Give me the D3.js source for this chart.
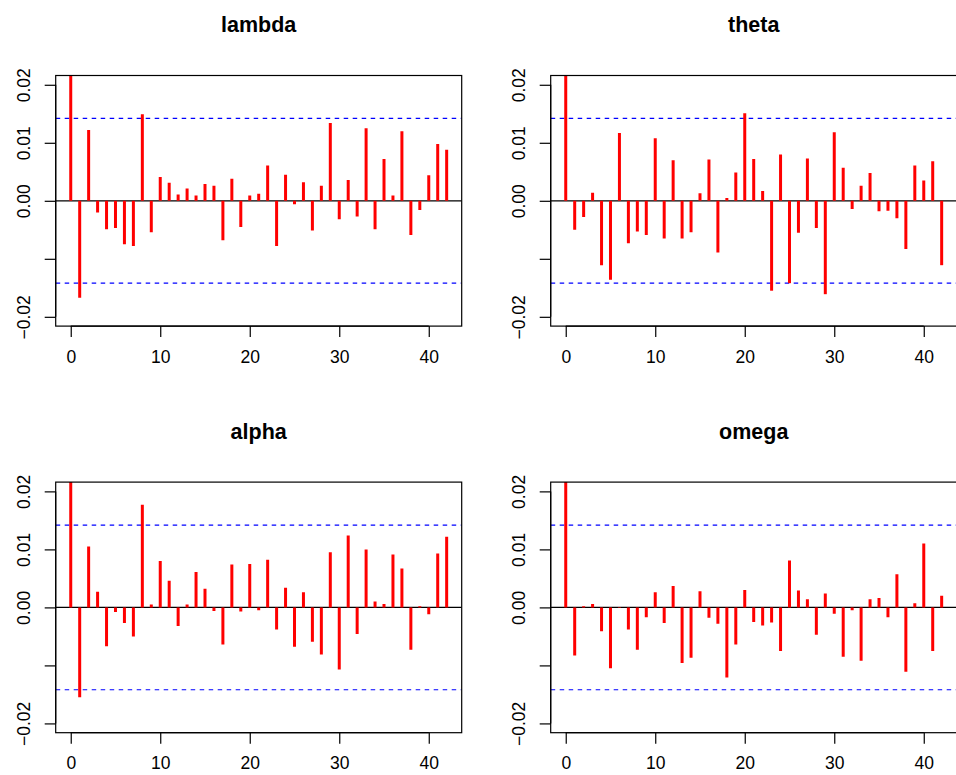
<!DOCTYPE html>
<html>
<head>
<meta charset="utf-8">
<script src="https://cdn.jsdelivr.net/npm/d3@7"></script>
<style>
  html, body { margin: 0; padding: 0; background: #fff; }
  svg { display: block; font-family: "Liberation Sans", Arial, Helvetica, sans-serif; }
</style>
</head>
<body>
<svg id="chart" width="956" height="775"></svg>
<script>
// --------- Data --------- //
// autocorrelations, lag 0..42 (lag 0 is always 1, clipped by the plot)
var lambda = [1, -0.0167, 0.0122, -0.0020, -0.0049, -0.0047, -0.0075, -0.0078, 0.0149, -0.0054,
	0.0041, 0.0031, 0.0011, 0.0021, 0.0009, 0.0029, 0.0026, -0.0068, 0.0038, -0.0045,
	0.0009, 0.0012, 0.0061, -0.0078, 0.0045, -0.0006, 0.0032, -0.0051, 0.0026, 0.0134,
	-0.0032, 0.0036, -0.0027, 0.0125, -0.0049, 0.0072, 0.0009, 0.0120, -0.0059, -0.0016,
	0.0044, 0.0098, 0.0088];

var theta = [1, -0.0050, -0.0028, 0.0014, -0.0111, -0.0136, 0.0117, -0.0073, -0.0053, -0.0059,
	0.0108, -0.0065, 0.0070, -0.0065, -0.0054, 0.0013, 0.0071, -0.0089, 0.0005, 0.0049,
	0.0151, 0.0072, 0.0017, -0.0155, 0.0080, -0.0142, -0.0055, 0.0073, -0.0047, -0.0161,
	0.0118, 0.0057, -0.0014, 0.0026, 0.0048, -0.0018, -0.0017, -0.0030, -0.0083, 0.0061,
	0.0035, 0.0068, -0.0111];

var alpha = [1, -0.0155, 0.0105, 0.0027, -0.0067, -0.0008, -0.0027, -0.0050, 0.0177, 0.0005,
	0.0080, 0.0046, -0.0032, 0.0005, 0.0061, 0.0032, -0.0006, -0.0064, 0.0074, -0.0007,
	0.0075, -0.0005, 0.0082, -0.0038, 0.0034, -0.0068, 0.0026, -0.0059, -0.0081, 0.0095,
	-0.0107, 0.0124, -0.0046, 0.0100, 0.0010, 0.0006, 0.0091, 0.0067, -0.0073, 0.0002,
	-0.0012, 0.0093, 0.0122];

var omega = [1, -0.0083, 0.0002, 0.0006, -0.0041, -0.0105, -0.0001, -0.0038, -0.0073, -0.0017,
	0.0026, -0.0027, 0.0037, -0.0096, -0.0087, 0.0028, -0.0018, -0.0028, -0.0121, -0.0064,
	0.0030, -0.0025, -0.0031, -0.0026, -0.0075, 0.0081, 0.0029, 0.0014, -0.0047, 0.0024,
	-0.0011, -0.0085, -0.0005, -0.0092, 0.0014, 0.0016, -0.0017, 0.0057, -0.0111, 0.0007,
	0.0110, -0.0075, 0.0020];

var panelNames = ["lambda", "theta", "alpha", "omega"];
var panelSeries = [lambda, theta, alpha, omega];

var ciLimit = 0.0142; // blue dashed confidence bounds
var xTicks = [0, 10, 20, 30, 40];
var yTicks = [-0.02, -0.01, 0, 0.01, 0.02];
var yTickLabels = ["\u22120.02", "", "0.00", "0.01", "0.02"]; // -0.01 label dropped (overlap)
// --------- /Data --------- //

var svg = d3.select("#chart");

var box = {w: 406, h: 250.6};
var origins = [
	{x: 55.7, y: 75.5}, {x: 550.7, y: 75.5},
	{x: 55.7, y: 482.1}, {x: 550.7, y: 482.1}
];

panelNames.forEach(function(name, i){
	drawPanel(svg, origins[i], name, panelSeries[i], i);
});

function drawPanel(svg, o, title, values, idx){
	var lags = d3.range(values.length);
	var x = d3.scaleLinear().domain([-1.68, 43.68]).range([0, box.w]);
	var y = d3.scaleLinear().domain([-0.0216, 0.0216]).range([box.h, 0]);

	var g = svg.append("g").attr("transform", "translate(" + o.x + "," + o.y + ")");

	var clipId = "clip" + idx;
	g.append("clipPath").attr("id", clipId)
		.append("rect").attr("width", box.w).attr("height", box.h);

	var plot = g.append("g").attr("clip-path", "url(#" + clipId + ")");

	// zero line
	plot.append("line")
		.attr("x1", 0).attr("x2", box.w)
		.attr("y1", y(0)).attr("y2", y(0))
		.attr("stroke", "#000").attr("stroke-width", 1.2);

	// confidence bounds
	plot.selectAll("line.ci").data([ciLimit, -ciLimit]).enter().append("line")
		.attr("class", "ci")
		.attr("x1", 0).attr("x2", box.w)
		.attr("y1", function(d){ return y(d); })
		.attr("y2", function(d){ return y(d); })
		.attr("stroke", "#0000ff").attr("stroke-width", 1.2)
		.attr("stroke-dasharray", "4.5,4.5");

	// acf spikes
	plot.selectAll("line.spike").data(lags).enter().append("line")
		.attr("class", "spike")
		.attr("x1", function(d){ return x(d); })
		.attr("x2", function(d){ return x(d); })
		.attr("y1", y(0))
		.attr("y2", function(d){ return y(values[d]); })
		.attr("stroke", "#ff0000").attr("stroke-width", 3);

	// box
	g.append("rect")
		.attr("width", box.w).attr("height", box.h)
		.attr("fill", "none").attr("stroke", "#000").attr("stroke-width", 1.2);

	// x axis
	var xAxis = d3.axisBottom(x).tickValues(xTicks).tickSize(11).tickPadding(13).tickSizeOuter(0);
	var xg = g.append("g").attr("transform", "translate(0," + box.h + ")").call(xAxis);
	xg.select(".domain")
		.attr("d", "M" + x(xTicks[0]) + ",0H" + x(xTicks[xTicks.length - 1]));
	styleAxis(xg);
	xg.selectAll("text").attr("dy", "0.72em");

	// y axis (labels rotated, as in base R)
	var yAxis = d3.axisLeft(y).tickValues(yTicks).tickSize(11).tickSizeOuter(0)
		.tickFormat(function(d, i){ return yTickLabels[i]; });
	var yg = g.append("g").call(yAxis);
	yg.select(".domain")
		.attr("d", "M0," + y(yTicks[0]) + "V" + y(yTicks[yTicks.length - 1]));
	styleAxis(yg);
	yg.selectAll("text")
		.attr("x", 0).attr("y", 0).attr("dy", 0)
		.attr("text-anchor", "middle")
		.attr("transform", "translate(-25.5,0) rotate(-90)");

	// title
	g.append("text")
		.attr("x", box.w / 2).attr("y", -43.2)
		.attr("text-anchor", "middle")
		.attr("font-size", "21.5px").attr("font-weight", "bold")
		.text(title);
}

function styleAxis(sel){
	sel.attr("font-size", null).attr("font-family", null);
	sel.select(".domain").attr("stroke", "#000").attr("stroke-width", 1.2);
	sel.selectAll(".tick line").attr("stroke", "#000").attr("stroke-width", 1.2);
	sel.selectAll(".tick text").attr("fill", "#000").style("font-size", "17.5px");
}
</script>
</body>
</html>
